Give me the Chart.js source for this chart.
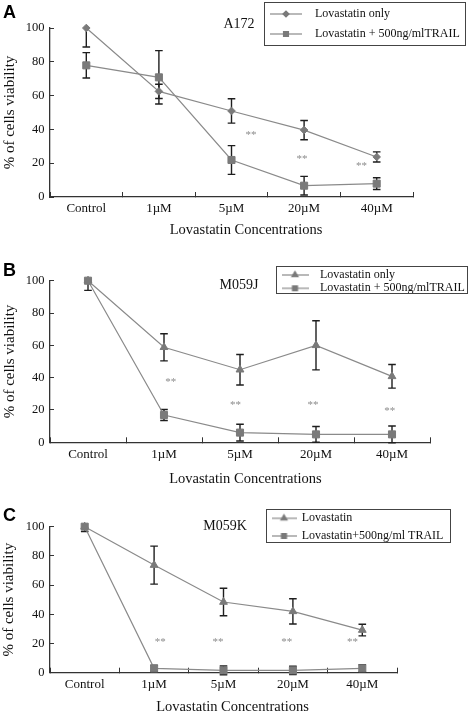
<!DOCTYPE html>
<html><head><meta charset="utf-8">
<script src="https://cdn.jsdelivr.net/npm/chart.js@4.4.1/dist/chart.umd.min.js"></script>
<style>
html,body{margin:0;padding:0;background:#fff;}
.panel{position:absolute;left:0;width:468px;}
canvas{display:block;}
</style></head><body>
<div class="panel" style="top:0"><canvas id="cA" width="468" height="240"></canvas></div>
<div class="panel" style="top:240px"><canvas id="cB" width="468" height="250"></canvas></div>
<div class="panel" style="top:490px"><canvas id="cC" width="468" height="226"></canvas></div>
<script>
// ---------- data ----------
const categories = ['Control', '1\u00B5M', '5\u00B5M', '20\u00B5M', '40\u00B5M'];

// Panel A: A172
const a172Only      = [100, 62.5, 50.9, 39.6, 23.7];
const a172OnlyErr   = [11.2, 4.2, 7.2, 5.7, 3.0];
const a172Trail     = [77.9, 70.8, 21.9, 6.7, 7.9];
const a172TrailErr  = [7.5, 15.8, 8.5, 5.5, 3.5];
const a172StarPos   = [2.27, 2.97, 3.79];
const a172StarVal   = [36.7, 22.3, 18.3];
const a172Legend    = ['Lovastatin only', 'Lovastatin + 500ng/mlTRAIL'];

// Panel B: M059J
const m059jOnly     = [100, 58.8, 44.9, 60.0, 40.8];
const m059jOnlyErr  = [1, 8.4, 9.4, 15.2, 7.3];
const m059jTrail    = [100, 16.9, 6.0, 4.9, 4.9];
const m059jTrailErr = [6.0, 3.4, 5.2, 4.9, 5.2];
const m059jStarPos  = [1.09, 1.94, 2.96, 3.97];
const m059jStarVal  = [37.5, 23.1, 23.1, 19.0];
const m059jLegend   = ['Lovastatin only', 'Lovastatin + 500ng/mlTRAIL'];

// Panel C: M059K
const m059kOnly     = [100, 73.7, 48.4, 42.0, 29.2];
const m059kOnlyErr  = [1, 13.0, 9.4, 8.6, 4.0];
const m059kTrail    = [100, 3.0, 1.6, 1.6, 3.0];
const m059kTrailErr = [3.4, 2.0, 3.0, 2.8, 2.5];
const m059kStarPos  = [1.09, 1.92, 2.91, 3.86];
const m059kStarVal  = [20.8, 20.8, 20.8, 20.8];
const m059kLegend   = ['Lovastatin', 'Lovastatin+500ng/ml TRAIL'];

const yTickStep = 20;
const yMin = 0, yMax = 100;
const yTitle = '% of cells viability';
const xTitle = 'Lovastatin Concentrations';

// ---------- styles ----------
const SERIF = "'Liberation Serif', 'Times New Roman', serif";
const LINE_COLOR = '#8a8a8a';
const MARK_COLOR = '#7a7a7a';
const AXIS_COLOR = '#333';
const ERR_COLOR = '#1e1e1e';

function makeIcon(style, radius, lineLen) {
  const c = document.createElement('canvas');
  c.width = lineLen; c.height = 12;
  const g = c.getContext('2d');
  g.strokeStyle = LINE_COLOR; g.lineWidth = 1.2;
  g.beginPath(); g.moveTo(0, 6); g.lineTo(lineLen, 6); g.stroke();
  g.fillStyle = MARK_COLOR; g.strokeStyle = MARK_COLOR;
  Chart.helpers.drawPoint(g, {pointStyle: style, radius: radius, borderWidth: 1, rotation: 0}, lineLen / 2, 6);
  return c;
}

const errorBars = {
  id: 'errorBars',
  beforeDatasetsDraw(chart, args, opts) {
    const {ctx, chartArea} = chart;
    const y = chart.scales.y;
    ctx.save();
    ctx.beginPath();
    ctx.rect(0, chartArea.top - 0.5, chart.width, chart.height - chartArea.top);
    ctx.clip();
    ctx.strokeStyle = opts.color; ctx.lineWidth = opts.width;
    chart.data.datasets.forEach((ds, di) => {
      if (!ds.errors) return;
      const meta = chart.getDatasetMeta(di);
      meta.data.forEach((pt, i) => {
        const v = ds.data[i], e = ds.errors[i];
        const yt = y.getPixelForValue(v + e), yb = y.getPixelForValue(v - e);
        const x = pt.x;
        ctx.beginPath();
        ctx.moveTo(x, yt); ctx.lineTo(x, yb);
        ctx.moveTo(x - opts.cap, yt); ctx.lineTo(x + opts.cap, yt);
        ctx.moveTo(x - opts.cap, yb); ctx.lineTo(x + opts.cap, yb);
        ctx.stroke();
      });
    });
    ctx.restore();
  }
};

const legendPlace = {
  id: 'legendPlace',
  afterLayout(chart, args, opts) {
    const lg = chart.legend;
    if (!lg) return;
    lg.left = opts.left; lg.top = opts.top;
    lg.width = 220; lg.height = 80;
    lg.right = opts.left + 220; lg.bottom = opts.top + 80;
  }
};

const annotate = {
  id: 'annotate',
  afterDraw(chart, args, opts) {
    const {ctx} = chart;
    const x = chart.scales.x, y = chart.scales.y;
    ctx.save();
    ctx.font = opts.starFont; ctx.fillStyle = opts.starColor;
    ctx.textAlign = 'center'; ctx.textBaseline = 'middle';
    opts.starPos.forEach((p, i) => {
      ctx.fillText('**', x.getPixelForValue(p), y.getPixelForValue(opts.starVal[i]));
    });
    opts.labels.forEach(l => {
      ctx.font = l.font; ctx.fillStyle = l.color;
      ctx.textAlign = l.align; ctx.textBaseline = 'middle';
      ctx.fillText(l.text, l.x, l.y);
    });
    const f = opts.frame;
    ctx.strokeStyle = '#444'; ctx.lineWidth = 1;
    ctx.strokeRect(Math.round(f[0]) + 0.5, Math.round(f[1]) + 0.5, Math.round(f[2]), Math.round(f[3]));
    ctx.restore();
  }
};

function makePanel(id, p) {
  const icons = [makeIcon(p.onlyStyle, p.iconR[0], p.iconLen), makeIcon('rect', p.iconR[1], p.iconLen)];
  const H = document.getElementById(id).height;
  return new Chart(document.getElementById(id), {
    type: 'line',
    data: {
      labels: categories,
      datasets: [
        { label: p.legend[0], data: p.only, errors: p.onlyErr,
          borderColor: LINE_COLOR, borderWidth: 1.2, backgroundColor: MARK_COLOR,
          pointStyle: p.onlyStyle, pointRadius: p.onlyR, pointBackgroundColor: MARK_COLOR,
          pointBorderColor: MARK_COLOR, pointBorderWidth: 1, clip: false, tension: 0 },
        { label: p.legend[1], data: p.trail, errors: p.trailErr,
          borderColor: LINE_COLOR, borderWidth: 1.2, backgroundColor: MARK_COLOR,
          pointStyle: 'rect', pointRadius: 5, pointBackgroundColor: MARK_COLOR,
          pointBorderColor: MARK_COLOR, pointBorderWidth: 1, clip: false, tension: 0 }
      ]
    },
    options: {
      responsive: false,
      animation: false,
      devicePixelRatio: 1,
      events: [],
      layout: { padding: { top: p.top, right: 468 - p.right, bottom: 0, left: 0 } },
      scales: {
        x: {
          type: 'category',
          offset: true,
          afterFit(s) { s.height = H - p.bottom; },
          grid: { offset: true, drawOnChartArea: false, drawTicks: true, tickLength: -5, color: AXIS_COLOR, lineWidth: 1 },
          border: { color: AXIS_COLOR, width: 1.3 },
          ticks: { font: { family: SERIF, size: 13 }, color: '#111', padding: 9, maxRotation: 0, autoSkip: false },
          title: { display: true, text: p.xTitleText, font: { family: SERIF, size: 14.5 }, color: '#111',
                   padding: { top: 0, bottom: p.xTitlePadB } }
        },
        y: {
          min: yMin, max: yMax,
          afterFit(s) { s.width = 50; },
          grid: { drawOnChartArea: false, drawTicks: true, tickLength: -4, color: AXIS_COLOR, lineWidth: 1 },
          border: { color: AXIS_COLOR, width: 1.3 },
          ticks: { stepSize: yTickStep, font: { family: SERIF, size: 12.5 }, color: '#111', padding: 9.5 },
          title: { display: true, text: yTitle, font: { family: SERIF, size: 15 }, color: '#111',
                   padding: { top: p.yTitlePadT, bottom: 0 } }
        }
      },
      plugins: {
        tooltip: { enabled: false },
        legend: {
          display: true,
          position: 'chartArea',
          align: 'start',
          labels: {
            usePointStyle: true,
            pointStyleWidth: p.boxW,
            padding: p.legPad,
            color: '#111',
            font: { family: SERIF, size: 12 },
            generateLabels(chart) {
              const items = Chart.defaults.plugins.legend.labels.generateLabels(chart);
              items.forEach((it, i) => { it.pointStyle = icons[i]; it.rotation = 0; });
              return items;
            }
          }
        },
        legendPlace: { left: p.legLeft, top: p.legTop },
        errorBars: { color: ERR_COLOR, width: 1.4, cap: 3.8 },
        annotate: {
          starFont: '11px ' + SERIF, starColor: '#8c8c8c',
          starPos: p.starPos, starVal: p.starVal,
          frame: p.frame,
          labels: [
            { text: p.cell, x: p.cellX, y: p.cellY, font: '14px ' + SERIF, color: '#111', align: 'center' },
            { text: p.letter, x: 3, y: p.letterY, font: "bold 18px 'Liberation Sans', Arial, sans-serif", color: '#000', align: 'left' }
          ]
        }
      }
    },
    plugins: [legendPlace, errorBars, annotate]
  });
}

makePanel('cA', {
  only: a172Only, onlyErr: a172OnlyErr, trail: a172Trail, trailErr: a172TrailErr,
  onlyStyle: 'rectRot', onlyR: 3.8, iconR: [3, 3.5], iconLen: 32,
  legend: a172Legend, starPos: a172StarPos, starVal: a172StarVal,
  top: 28, bottom: 197, right: 413, xTitlePadB: 1.3, yTitlePadT: 1,
  xTitleText: '\u00A0'.repeat(8) + xTitle,
  boxW: 46, legPad: 8, legLeft: 255, legTop: 0, frame: [264, 2, 201, 43],
  cell: 'A172', cellX: 239, cellY: 24, letter: 'A', letterY: 13
});
makePanel('cB', {
  only: m059jOnly, onlyErr: m059jOnlyErr, trail: m059jTrail, trailErr: m059jTrailErr,
  onlyStyle: 'triangle', onlyR: 4.5, iconR: [3.5, 3.5], iconLen: 27,
  legend: m059jLegend, starPos: m059jStarPos, starVal: m059jStarVal,
  top: 40.7, bottom: 202.3, right: 430, xTitlePadB: 2.3, yTitlePadT: 1,
  xTitleText: '\u00A0'.repeat(3) + xTitle,
  boxW: 38, legPad: 1.3, legLeft: 274.7, legTop: 27.7, frame: [276, 26, 191, 27],
  cell: 'M059J', cellX: 239, cellY: 45, letter: 'B', letterY: 31.5
});
makePanel('cC', {
  only: m059kOnly, onlyErr: m059kOnlyErr, trail: m059kTrail, trailErr: m059kTrailErr,
  onlyStyle: 'triangle', onlyR: 4.5, iconR: [3.5, 3.5], iconLen: 25,
  legend: m059kLegend, starPos: m059kStarPos, starVal: m059kStarVal,
  top: 36.7, bottom: 182.7, right: 397, xTitlePadB: 0.6, yTitlePadT: 0,
  xTitleText: '\u00A0'.repeat(5) + xTitle,
  boxW: 23.4, legPad: 5.7, legLeft: 266.6, legTop: 16.6, frame: [266, 19, 184, 33],
  cell: 'M059K', cellX: 225, cellY: 36.7, letter: 'C', letterY: 26.5
});
</script>
</body></html>
